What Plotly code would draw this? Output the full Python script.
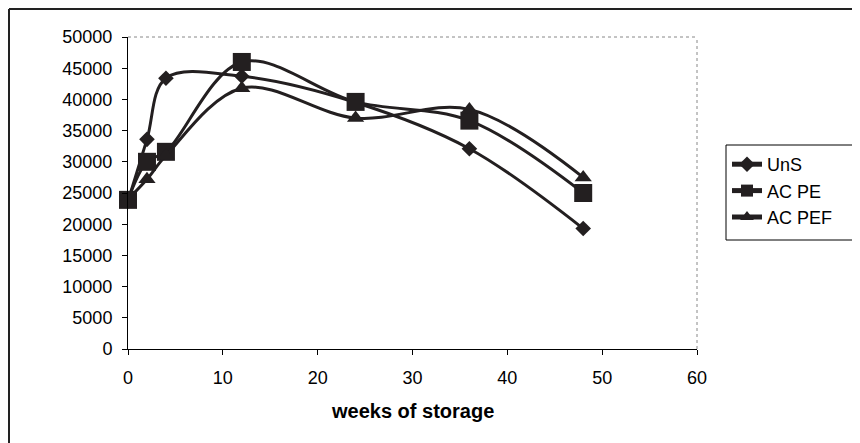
import plotly.graph_objects as go

weeks = [0, 2, 4, 12, 24, 36, 48]
uns = [23700, 33600, 43400, 43700, 39500, 32100, 19300]
ac_pe = [23900, 30000, 31600, 46000, 39600, 36600, 25000]
ac_pef = [24000, 27200, 31000, 41800, 37000, 38400, 27500]

x_ticks = [0, 10, 20, 30, 40, 50, 60]
y_ticks = [0, 5000, 10000, 15000, 20000, 25000, 30000, 35000, 40000, 45000, 50000]

INK = "#231f20"
FONT = "Liberation Sans, Arial, sans-serif"

fig = go.Figure()
series = [("UnS", uns, "diamond", 12), ("AC PE", ac_pe, "square", 18), ("AC PEF", ac_pef, "triangle-up", 15)]
for name, vals, sym, size in series:
    fig.add_trace(go.Scatter(
        x=weeks, y=vals, name=name, mode="lines+markers", cliponaxis=False,
        line=dict(color=INK, width=3, shape="spline", smoothing=1.0),
        marker=dict(symbol=sym, size=size, color=INK),
    ))

OFF = 8  # page offset of the figure
W, H = 860, 443
# target plot area in page pixels
PL, PR, PT, PB = 128, 697, 37, 349
L, T = PL - OFF, PT - OFF
pw, ph = PR - PL, PB - PT
R, B = W - L - pw, H - T - ph

def px(xp):
    return (xp - PL) / pw

def py(yp):
    return (PB - yp) / ph

fig.update_layout(
    width=W, height=H,
    margin=dict(l=L, r=R, t=T, b=B, autoexpand=False),
    paper_bgcolor="white", plot_bgcolor="white",
    font=dict(family=FONT, size=18, color="black"),
    showlegend=True,
    legend=dict(
        x=px(727), y=py(146), xanchor="left", yanchor="top",
        borderwidth=0, bgcolor="rgba(0,0,0,0)",
        font=dict(family=FONT, size=18, color="black"),
        itemsizing="constant", tracegroupgap=0,
    ),
    xaxis=dict(
        range=[0, 60], tickvals=x_ticks, ticktext=[str(v) for v in x_ticks],
        showgrid=False, zeroline=False, showline=True, linecolor="black", linewidth=1,
        ticks="outside", ticklen=5, tickcolor="black", ticklabelstandoff=7,
        tickfont=dict(family=FONT, size=18, color="black"),
    ),
    yaxis=dict(
        range=[0, 50000], tickvals=y_ticks, ticktext=[str(v) for v in y_ticks],
        showgrid=False, zeroline=False, showline=True, linecolor="black", linewidth=1,
        ticks="outside", ticklen=5, tickcolor="black", ticklabelstandoff=6,
        tickfont=dict(family=FONT, size=18, color="black"),
    ),
    annotations=[dict(
        text="<b>weeks of storage</b>", x=0.5, y=py(411), xref="paper", yref="paper",
        xanchor="center", yanchor="middle", showarrow=False,
        font=dict(family=FONT, size=20, color="black"),
    )],
    shapes=[
        dict(type="line", xref="paper", yref="paper", x0=0, x1=1, y0=1, y1=1,
             line=dict(color="#888888", width=1, dash="dot"), layer="below"),
        dict(type="line", xref="paper", yref="paper", x0=1, x1=1, y0=0, y1=1,
             line=dict(color="#888888", width=1, dash="dot"), layer="below"),
        dict(type="line", xref="paper", yref="paper", x0=px(9), x1=px(9), y0=py(9), y1=py(460),
             line=dict(color="#222222", width=2)),
        dict(type="line", xref="paper", yref="paper", x0=px(9), x1=px(880), y0=py(9), y1=py(9),
             line=dict(color="#222222", width=2)),
        dict(type="rect", xref="paper", yref="paper", x0=px(726), x1=px(858), y0=py(145), y1=py(240),
             line=dict(color="black", width=1), fillcolor="white", layer="above"),
    ],
)

fig.write_html("out.html")
